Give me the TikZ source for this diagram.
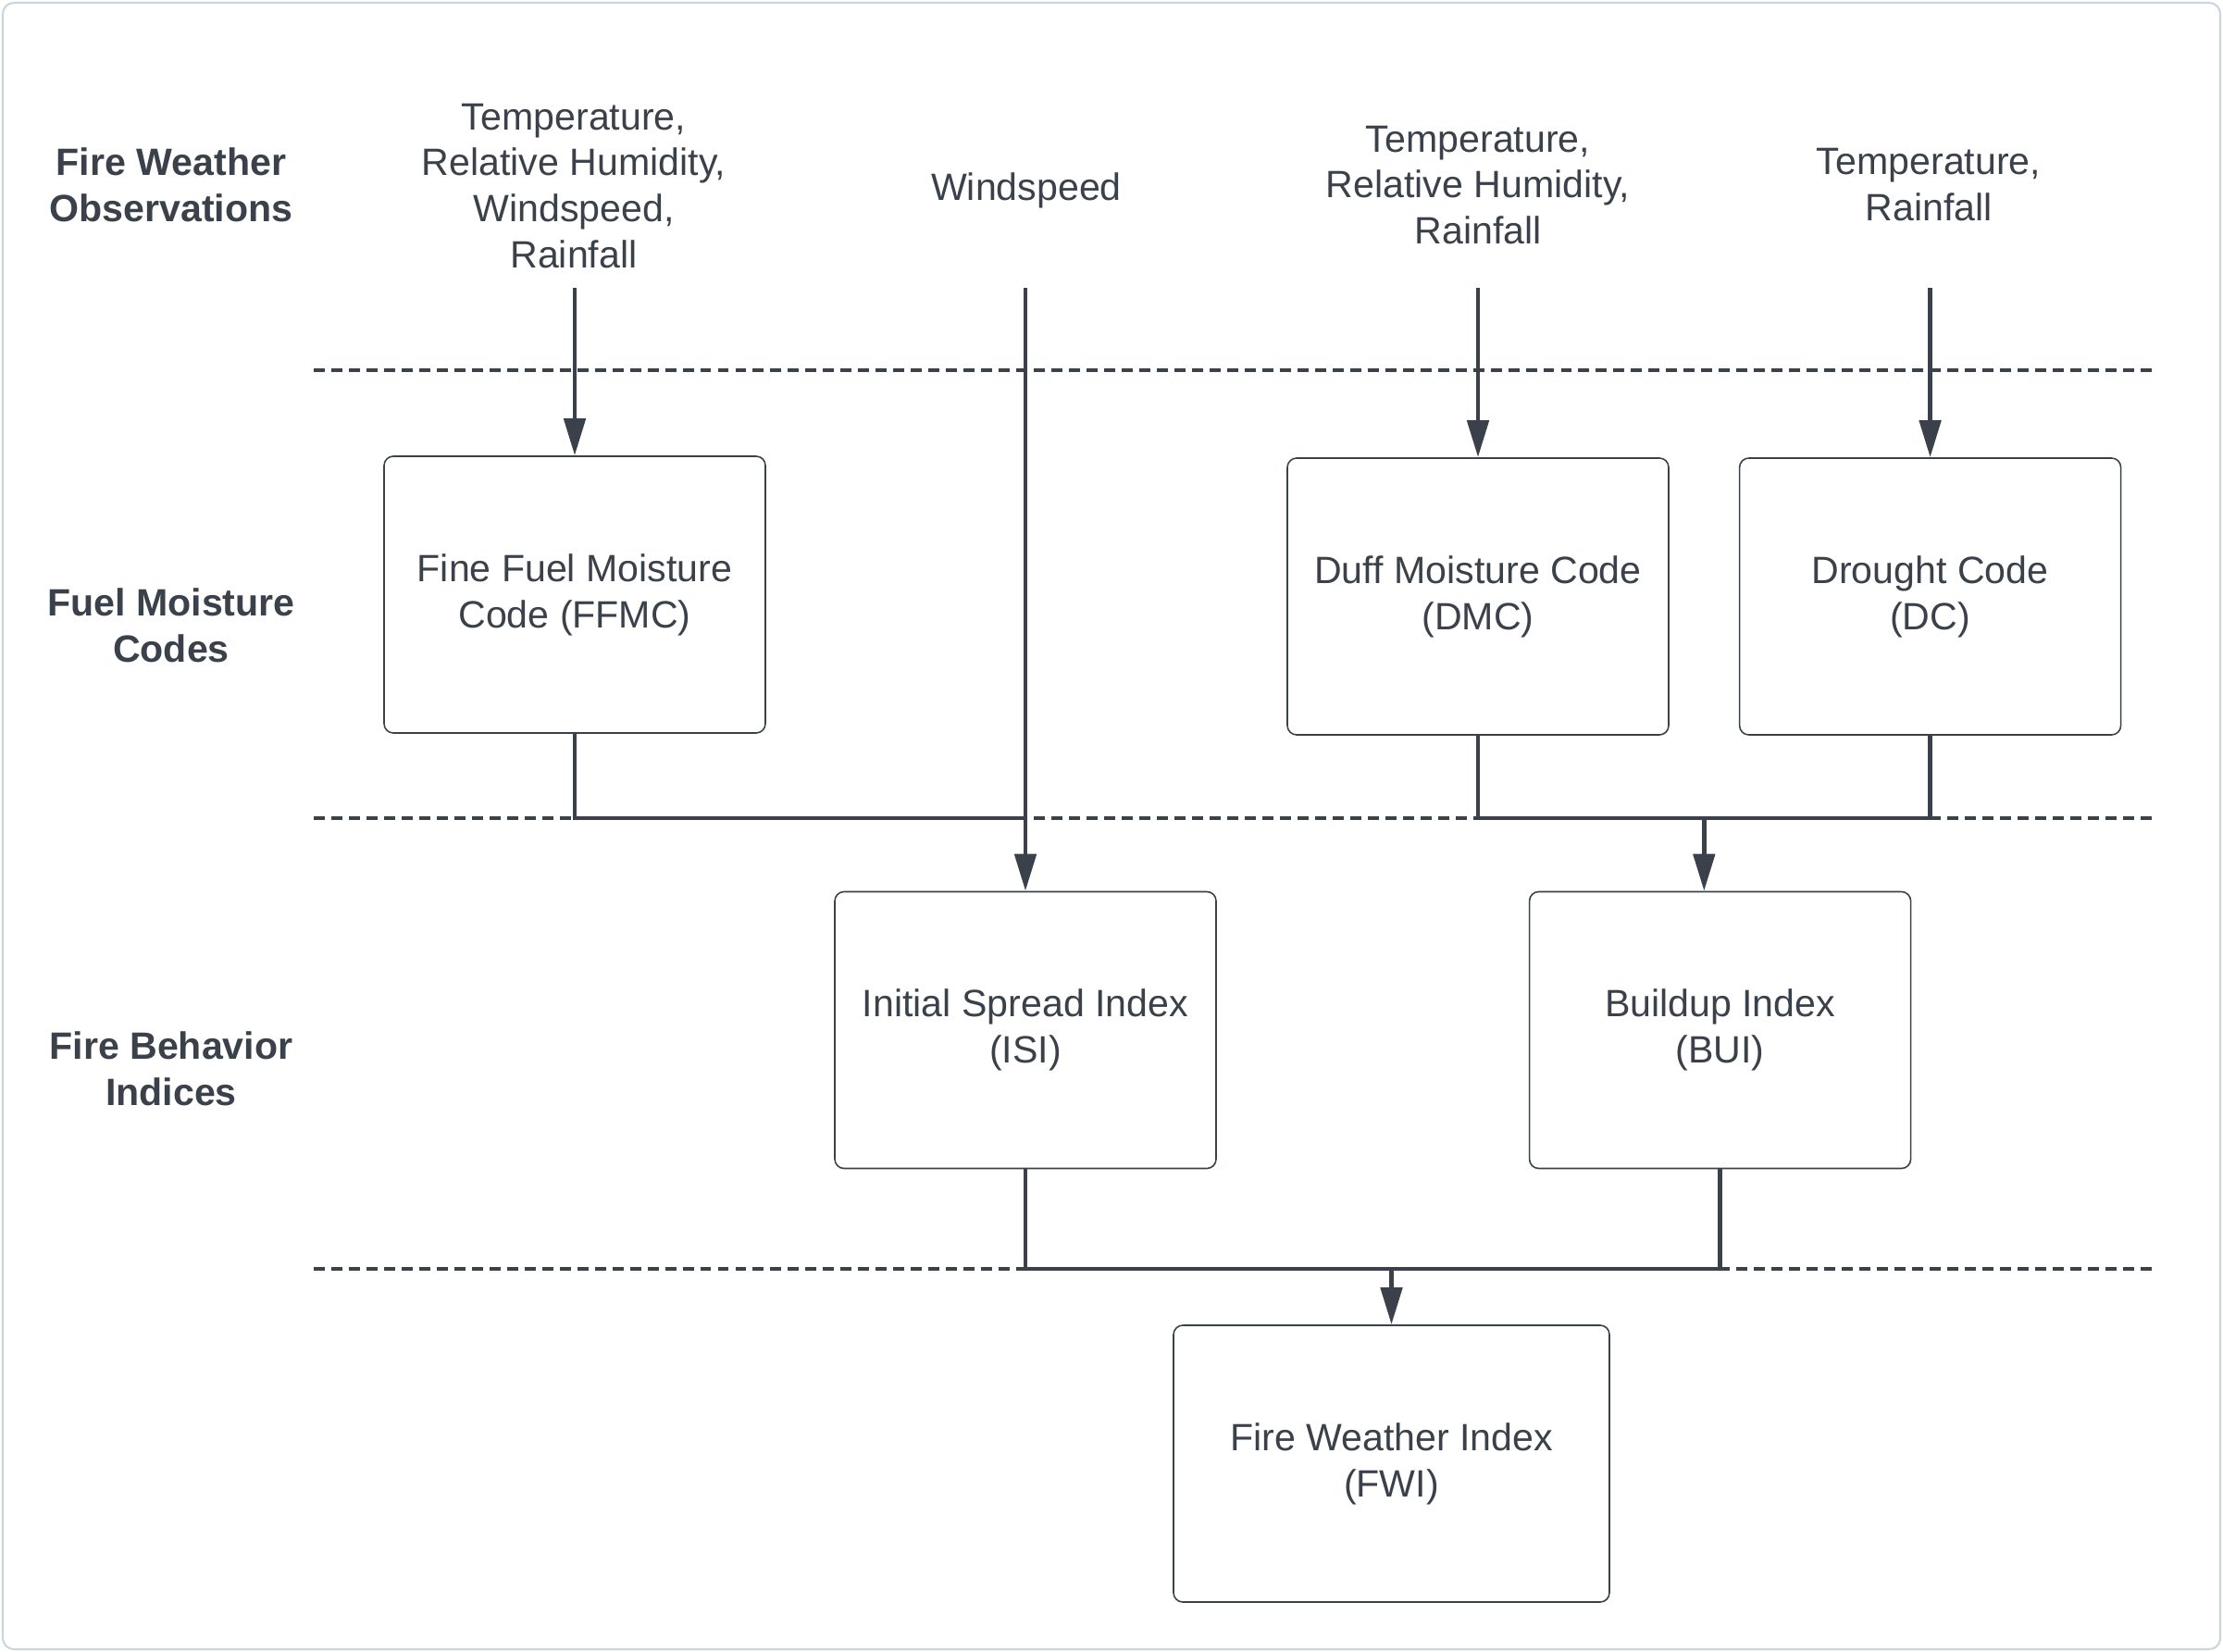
\documentclass[tikz,border=0pt]{standalone}
\usepackage{fontspec}
\setmainfont{Liberation Sans}
\usetikzlibrary{arrows.meta,positioning,calc}
\definecolor{inkColor}{HTML}{3A414A}
\definecolor{frameColor}{HTML}{CCD4DE}

\begin{document}
\begin{tikzpicture}[%
    >={Triangle[length=0.4cm,width=0.23cm]},align=center,
    every node/.style={font=\fontsize{11.7}{14.2}\selectfont,text=inkColor}]
    \tikzstyle{frame}=[draw=frameColor,line width=0.6pt,rounded corners=0.12cm]
    \tikzstyle{state}=[text centered,rectangle,rounded corners=0.1cm,%
      fill=white,draw=inkColor,line width=0.45pt,%
      minimum width=4.12cm,minimum height=2.99cm]
    \tikzstyle{rowLabel}=[font=\fontsize{11.7}{14.2}\selectfont\bfseries]
    \tikzstyle{layerLine}=[draw=inkColor,line width=0.9pt,dash pattern=on 3.4pt off 2pt]
    \tikzstyle{flow}=[draw=inkColor,line width=1.4pt]
    % Page and frame
    \useasboundingbox (0,0) rectangle (24.02,-17.85);
    \draw[frame] (0.03,-0.03) rectangle (23.99,-17.82);
    % Layer separators
    \draw[layerLine] (3.39,-4.00) -- (23.25,-4.00);
    \draw[layerLine] (3.39,-8.84) -- (23.25,-8.84);
    \draw[layerLine] (3.39,-13.71) -- (23.25,-13.71);
    % Row labels
    \node (obsLabel) [rowLabel] at (1.85,-2.00)        {Fire Weather\\Observations};
    \node (fuelLabel) [rowLabel] at (1.85,-6.76)       {Fuel Moisture\\Codes};
    \node (behaviorLabel) [rowLabel] at (1.85,-11.55)  {Fire Behavior\\Indices};
    % Observations
    \node (obsFfmc) at (6.20,-2.01)  {Temperature,\\Relative Humidity,\\Windspeed,\\Rainfall};
    \node (obsWind) at (11.09,-2.06) {Windspeed};
    \node (obsDmc) at (15.97,-2.00)  {Temperature,\\Relative Humidity,\\Rainfall};
    \node (obsDc) at (20.84,-2.00)   {Temperature,\\Rainfall};
    % All states
    \node (ffmc) [state] at (6.21,-6.425)                 {Fine Fuel Moisture\\Code (FFMC)};
    \node (dmc) [state] at (15.97,-6.445)                 {Duff Moisture Code\\(DMC)};
    \node (dc) [state,right=0.75cm of dmc]                {Drought Code\\(DC)};
    \node (isi) [state] at (11.08,-11.13)                 {Initial Spread Index\\(ISI)};
    \node (bui) [state,right=3.37cm of isi]               {Buildup Index\\(BUI)};
    \node (fwi) [state,minimum width=4.71cm] at (15.035,-15.815) {Fire Weather Index\\(FWI)};
    % Edges
    \coordinate (inFfmc) at (ffmc.north |- 0,-3.11);
    \coordinate (inWind) at (isi.north |- 0,-3.11);
    \coordinate (inDmc) at (dmc.north |- 0,-3.11);
    \coordinate (inDc) at (dc.north |- 0,-3.11);
    \draw[flow,->] (inFfmc) -- (ffmc);
    \draw[flow,->] (inWind) -- (isi);
    \draw[flow,->] (inDmc) -- (dmc);
    \draw[flow,->] (inDc) -- (dc);
    \coordinate (mergeIsi) at (isi.north |- 0,-8.84);
    \draw[flow] (ffmc) |- (mergeIsi);
    \coordinate (midBui) at ($(dmc.south)!0.5!(dc.south)$);
    \draw[flow] (dmc) |- (dc.south |- mergeIsi) -- (dc);
    \draw[flow,->] (midBui |- mergeIsi) -- (midBui |- bui.north);
    \coordinate (mergeFwi) at (fwi.north |- 0,-13.71);
    \draw[flow] (isi) |- (bui.south |- mergeFwi) -- (bui);
    \draw[flow,->] (mergeFwi) -- (fwi);
  \end{tikzpicture}
\end{document}
